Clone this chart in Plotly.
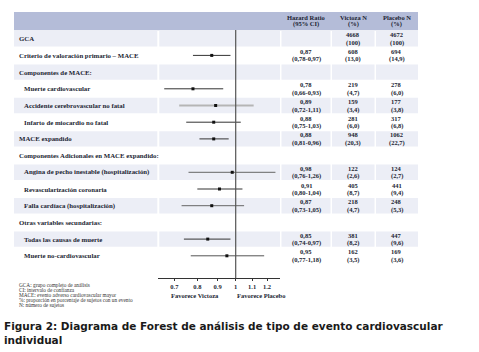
import math
import plotly.graph_objects as go

W, H = 479, 352

labels = ["GCA", "Criterio de valoración primario – MACE", "Componentes de MACE:",
          "Muerte cardiovascular", "Accidente cerebrovascular no fatal",
          "Infarto de miocardio no fatal", "MACE expandido",
          "Componentes Adicionales en MACE expandido:",
          "Angina de pecho inestable (hospitalización)", "Revascularización coronaria",
          "Falla cardíaca (hospitalización)", "Otras variables secundarias:",
          "Todas las causas de muerte", "Muerte no-cardiovascular"]
indent = [0, 0, 0, 1, 1, 1, 0, 0, 1, 1, 1, 0, 1, 1]
hr = [None, 0.87, None, 0.78, 0.89, 0.88, 0.88, None, 0.98, 0.91, 0.87, None, 0.85, 0.95]
lo = [None, 0.78, None, 0.66, 0.72, 0.75, 0.81, None, 0.76, 0.80, 0.73, None, 0.74, 0.77]
hi = [None, 0.97, None, 0.93, 1.11, 1.03, 0.96, None, 1.26, 1.04, 1.05, None, 0.97, 1.18]
vic_n = ["4668", "608", None, "219", "159", "281", "948", None, "122", "405", "218", None, "381", "162"]
vic_p = ["(100)", "(13,0)", None, "(4,7)", "(3,4)", "(6,0)", "(20,3)", None, "(2,6)", "(8,7)", "(4,7)", None, "(8,2)", "(3,5)"]
pla_n = ["4672", "694", None, "278", "177", "317", "1062", None, "124", "441", "248", None, "447", "169"]
pla_p = ["(100)", "(14,9)", None, "(6,0)", "(3,8)", "(6,8)", "(22,7)", None, "(2,7)", "(9,4)", "(5,3)", None, "(9,6)", "(3,6)"]
tick_vals = [0.7, 0.8, 0.9, 1, 1.1, 1.2]
tick_text = ["0.7", "0.8", "0.9", "1", "1.1", "1.2"]
headers = [("Hazard Ratio", "(95% CI)"), ("Victoza N", "(%)"), ("Placebo N", "(%)")]
footnotes = ["GCA: grupo completo de análisis", "CI: intervalo de confianza",
             "MACE: evento adverso cardiovascular mayor",
             "%: proporción en porcentaje de sujetos con un evento",
             "N: número de sujetos"]
caption = "Figura 2: Diagrama de Forest de análisis de tipo de evento cardiovascular<br>individual"

# line styles per row
line_col = ["#333", "#333", "#333", "#333", "#b5b5b5", "#333", "#333", "#333",
            "#666", "#333", "#666", "#333", "#333", "#555"]
line_w = [1, 1, 1, 1, 1.8, 1, 1, 1, 1, 1.2, 1, 1, 1, 1]

def px(x): return x / W
def py(y): return 1 - y / H

TXT = "#1c1f33"
SERIF = "Liberation Serif"

ROW0, PITCH = 38.7, 16.7
n = len(labels)
yr = [(H - ROW0) / PITCH, -ROW0 / PITCH]

fig = go.Figure()
for i in range(n):
    if hr[i] is None:
        continue
    fig.add_trace(go.Scatter(x=[lo[i], hi[i]], y=[i, i], mode="lines",
                             line=dict(color=line_col[i], width=line_w[i]),
                             hoverinfo="skip", showlegend=False))
rows_with = [i for i in range(n) if hr[i] is not None]
fig.add_trace(go.Scatter(x=[hr[i] for i in rows_with], y=rows_with, mode="markers",
                         marker=dict(symbol="square", size=3, color="#111"),
                         showlegend=False))

shapes = []
# header band
shapes.append(dict(type="rect", xref="paper", yref="paper", x0=px(14), x1=px(418),
                   y0=py(30.3), y1=py(12), fillcolor="#b4bcd8", line_width=0, layer="below"))
# shaded rows
segs = [(14, 157.3), (159.3, 280), (281.5, 330.5), (332, 374.5), (376, 418)]
for i in range(0, n, 2):
    for a, b in segs:
        shapes.append(dict(type="rect", xref="paper", yref="y", x0=px(a), x1=px(b),
                           y0=i - 0.5 + 0.04, y1=i + 0.5 - 0.04,
                           fillcolor="#eceef6", line_width=0, layer="below"))
# reference line at 1
shapes.append(dict(type="line", xref="x", yref="paper", x0=1, x1=1,
                   y0=py(278.3), y1=py(30), line=dict(color="#555", width=1.2)))

ann = []
for i in range(n):
    ann.append(dict(x=px(17 + 5 * indent[i]), y=i, xref="paper", yref="y",
                    text=f"<b>{labels[i]}</b>",
                    xanchor="left", yanchor="middle", showarrow=False,
                    font=dict(family=SERIF, size=6.8, color=TXT)))
    cols = [(306, None if hr[i] is None else f"{hr[i]:.2f}".replace(".", ","),
             None if hr[i] is None else f"({lo[i]:.2f}-{hi[i]:.2f})".replace(".", ",")),
            (353, vic_n[i], vic_p[i]), (396.5, pla_n[i], pla_p[i])]
    for cx, t1, t2 in cols:
        if t1 is None:
            continue
        for t, dy in ((t1, -4), (t2, 4)):
            ann.append(dict(x=px(cx), y=i, xref="paper", yref="y", text=f"<b>{t}</b>",
                            xanchor="center", yanchor="middle", yshift=-dy, showarrow=False,
                            font=dict(family=SERIF, size=6.5, color=TXT)))
for (h1, h2), cx in zip(headers, [306, 353, 396.5]):
    for t, yy in ((h1, 17.5), (h2, 24.5)):
        ann.append(dict(x=px(cx), y=py(yy), xref="paper", yref="paper", text=f"<b>{t}</b>",
                        xanchor="center", yanchor="middle", showarrow=False,
                        font=dict(family=SERIF, size=6.5, color=TXT)))
for t, cx in (("Favorece Victoza", 195), ("Favorece Placebo", 261)):
    ann.append(dict(x=px(cx), y=py(295.5), xref="paper", yref="paper", text=f"<b>{t}</b>",
                    xanchor="center", yanchor="middle", showarrow=False,
                    font=dict(family=SERIF, size=6.5, color=TXT)))
for k, t in enumerate(footnotes):
    ann.append(dict(x=px(17), y=py(285 + 4.9 * k), xref="paper", yref="paper", text=t,
                    xanchor="left", yanchor="middle", showarrow=False,
                    font=dict(family=SERIF, size=5.3, color="#333")))
ann.append(dict(x=px(2), y=py(318), xref="paper", yref="paper", text=f"<b>{caption}</b>",
                xanchor="left", yanchor="top", showarrow=False, align="left",
                font=dict(family="DejaVu Sans", size=10.5, color="#1a1a1a")))

lx0 = math.log10(math.exp((158 - 235.7) / 172))
lx1 = math.log10(math.exp((280 - 235.7) / 172))

fig.update_layout(
    width=W, height=H, margin=dict(l=0, r=0, t=0, b=0),
    paper_bgcolor="white", plot_bgcolor="rgba(0,0,0,0)",
    shapes=shapes, annotations=ann,
    xaxis=dict(type="log", range=[lx0, lx1], domain=[px(158), px(280)],
               anchor="free", position=py(278.3), showgrid=False, zeroline=False,
               showline=True, linecolor="#333", linewidth=1,
               tickvals=tick_vals, ticktext=[f"<b>{t}</b>" for t in tick_text],
               ticks="outside", ticklen=2, tickcolor="#333",
               tickfont=dict(family=SERIF, size=6.5, color=TXT)),
    yaxis=dict(range=yr, domain=[0, 1], visible=False, fixedrange=True),
)
fig.write_html("out.html")
